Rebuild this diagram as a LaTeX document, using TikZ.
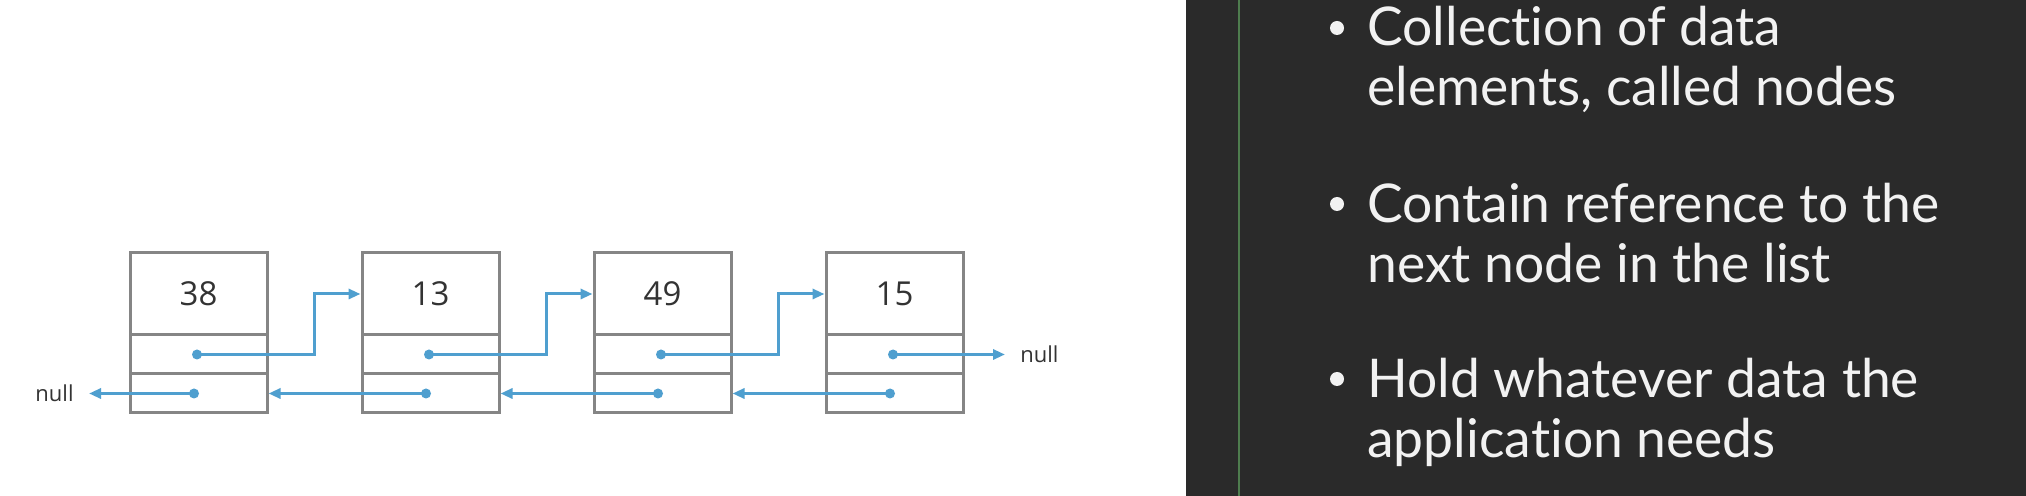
\documentclass[tikz,border=0pt]{standalone}
\usepackage{fontspec}
\setmainfont{Open Sans}
\newfontfamily\slidefont{Lato}[Ligatures={NoCommon,NoRare}]
\usetikzlibrary{arrows.meta}
\definecolor{boxgray}{HTML}{858585}
\definecolor{linkblue}{HTML}{4F9FCF}
\definecolor{numtext}{HTML}{333333}
\definecolor{panel}{HTML}{2A2A2A}
\definecolor{rulegreen}{HTML}{4E7C4E}
\definecolor{slidetext}{HTML}{F2F2F2}

\begin{document}
\begin{tikzpicture}[x=0.5pt, y=-0.5pt, >={Triangle[length=6pt,width=5pt]},
    cell/.style = {draw=boxgray, line width=1.5pt, minimum width=68.5pt, inner sep=0pt},
    data/.style = {cell, minimum height=41pt, text=numtext, font=\fontsize{16.5}{20}\selectfont},
    ptr/.style = {cell, minimum height=19.5pt},
    dot/.style = {circle, fill=linkblue, inner sep=0pt, minimum size=5pt},
    lnk/.style = {draw=linkblue, line width=1.5pt},
    nulltext/.style = {inner sep=0pt, inner xsep=7.5pt, text=numtext, font=\fontsize{11}{13}\selectfont},
    bullet/.style = {circle, fill=slidetext, inner sep=0pt, minimum size=7pt},
    item/.style = {anchor=base west, inner sep=0pt, align=left, text=slidetext,
        font=\slidefont\fontsize{26.7}{30}\selectfont}]
    \useasboundingbox (0,0) rectangle (2026,496);
    \fill[white] (0,0) rectangle (2026,496);

    % nodi della lista
    \node[data] (d1) at (198.5,294) {38};
    \node[ptr]  (n1) at (198.5,354.5) {};
    \node[ptr]  (p1) at (198.5,393.5) {};
    \node[data] (d2) at (430.5,294) {13};
    \node[ptr]  (n2) at (430.5,354.5) {};
    \node[ptr]  (p2) at (430.5,393.5) {};
    \node[data] (d3) at (662.5,294) {49};
    \node[ptr]  (n3) at (662.5,354.5) {};
    \node[ptr]  (p3) at (662.5,393.5) {};
    \node[data] (d4) at (894.5,294) {15};
    \node[ptr]  (n4) at (894.5,354.5) {};
    \node[ptr]  (p4) at (894.5,393.5) {};

    \node[dot] (nd1) at (197,354.5) {};
    \node[dot] (nd2) at (429,354.5) {};
    \node[dot] (nd3) at (661,354.5) {};
    \node[dot] (nd4) at (893,354.5) {};
    \node[dot] (pd1) at (194,393.5) {};
    \node[dot] (pd2) at (426,393.5) {};
    \node[dot] (pd3) at (658,393.5) {};
    \node[dot] (pd4) at (890,393.5) {};

    \node[nulltext, anchor=east] (nullp) at (89,393.5) {null};
    \node[nulltext, anchor=west] (nulln) at (1005,354.5) {null};

    % puntatori next
    \draw[lnk, ->] (nd1.center) -- ++(117,0) |- (d2.west);
    \draw[lnk, ->] (nd2.center) -- ++(117,0) |- (d3.west);
    \draw[lnk, ->] (nd3.center) -- ++(117,0) |- (d4.west);
    \draw[lnk, ->] (nd4.center) to (nulln.west);

    % puntatori prev
    \draw[lnk, ->] (pd1.center) to (nullp.east);
    \draw[lnk, ->] (pd2.center) to (p1.east);
    \draw[lnk, ->] (pd3.center) to (p2.east);
    \draw[lnk, ->] (pd4.center) to (p3.east);

    % pannello del testo
    \fill[panel] (1186,0) rectangle (2026,496);
    \draw[rulegreen, line width=1pt] (1239,0) -- (1239,496);

    \node[bullet] (b1) at (1337,28) {};
    \node[bullet] (b2) at (1337,204) {};
    \node[bullet] (b3) at (1337,379) {};
    \node[item] (t1) at (1367,106) {Collection of data\\elements, called nodes};
    \node[item] (t2) at (1367,283) {Contain reference to the\\next node in the list};
    \node[item] (t3) at (1367,458) {Hold whatever data the\\application needs};
\end{tikzpicture}
\end{document}
